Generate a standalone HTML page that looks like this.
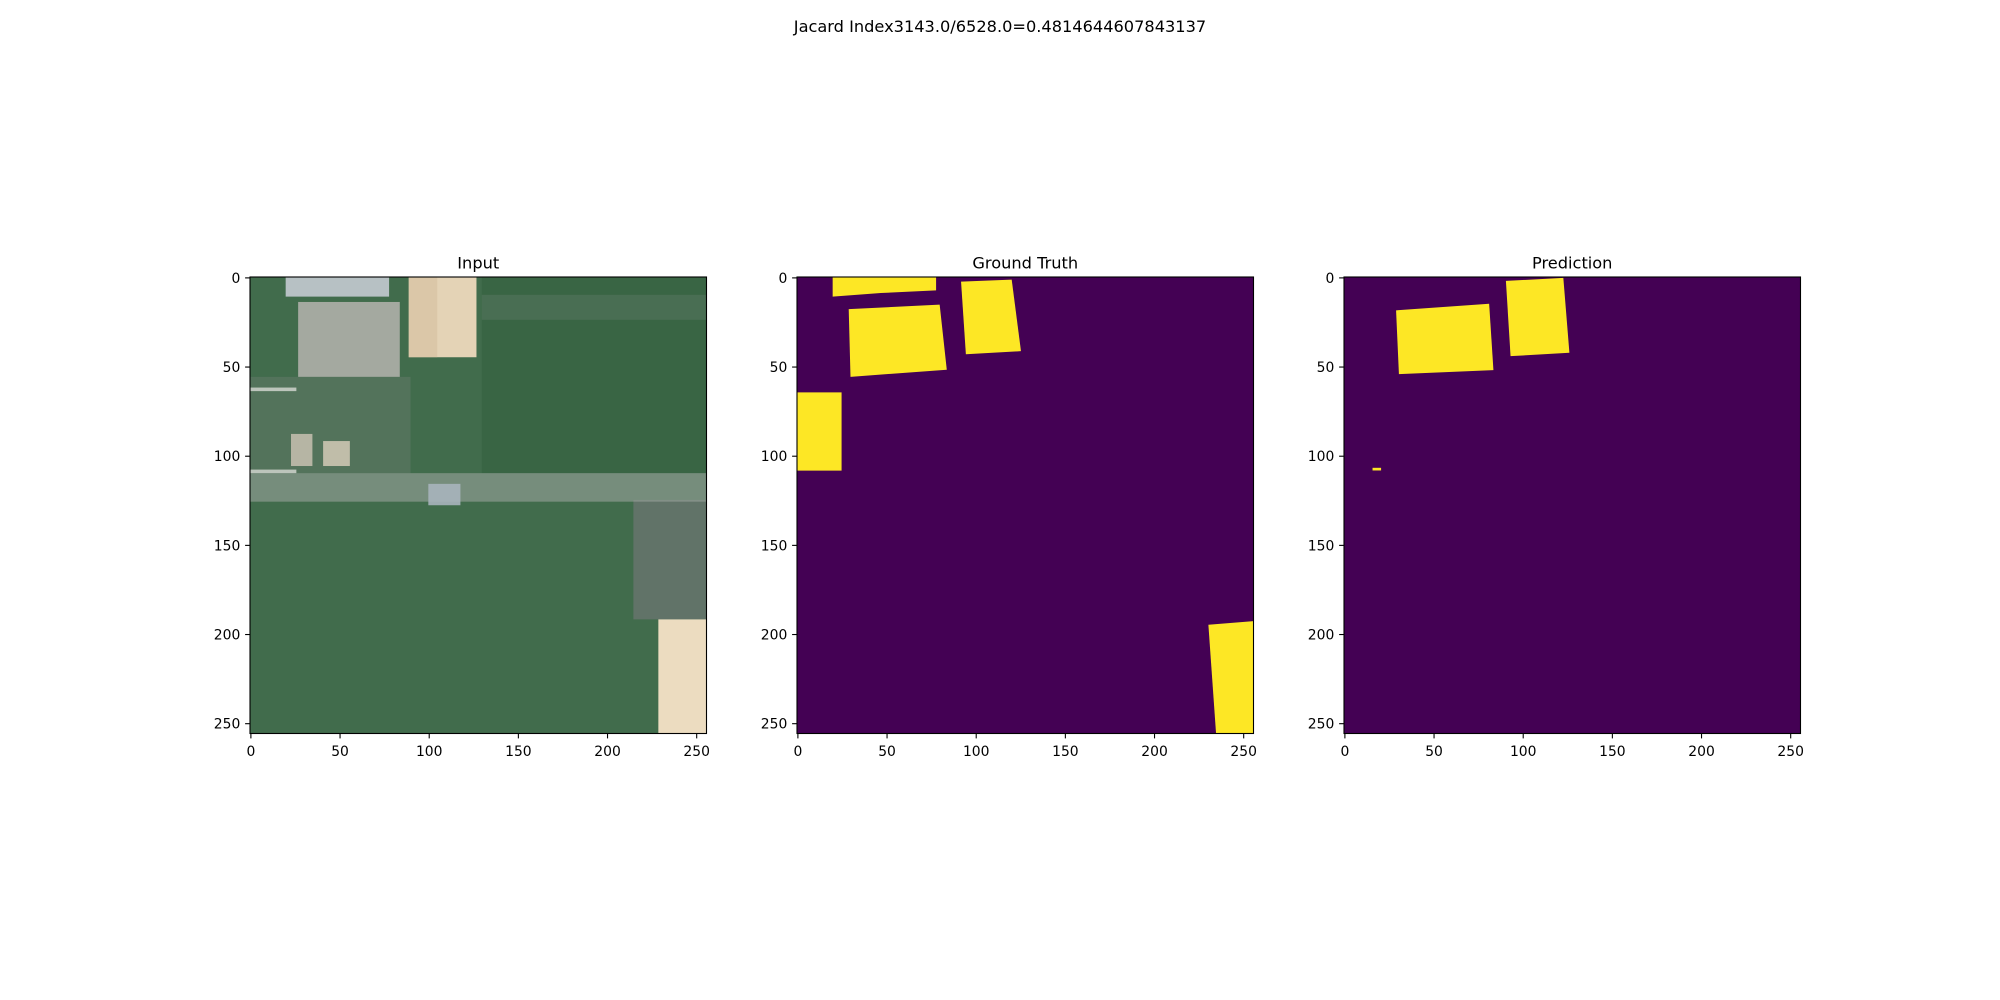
<!DOCTYPE html>
<html><head><meta charset="utf-8">
<style>
html,body{margin:0;padding:0;background:#fff;}
svg{display:block;font-family:"DejaVu Sans","Liberation Sans",sans-serif;}
</style></head>
<body>
<svg id="fig" width="2000" height="1000" viewBox="0 0 2000 1000" xmlns="http://www.w3.org/2000/svg">
<rect width="2000" height="1000" fill="#fff"/>
<text x="1000" y="32" font-size="16.2" text-anchor="middle" fill="#000">Jacard Index3143.0/6528.0=0.4814644607843137</text>
</svg>
<script>
// ---- data ----
const panelTitles = ["Input", "Ground Truth", "Prediction"];
const tickValues = [0, 50, 100, 150, 200, 250];
const tickLabels = ["0", "50", "100", "150", "200", "250"];
const imageSize = 256;
// mask polygons in pixel (data) coordinates [x,y,...]
const gtMasks = [
  [20,0, 78,0, 78,7.5, 47,9, 20,11],
  [29,18, 80,15.5, 84,52, 30,56],
  [92,2.6, 120.4,1.5, 125.6,41.6, 94.7,43.3],
  [0,64.7, 25,64.7, 25,108.6, 0,108.6],
  [230.7,195, 256,193, 256,256, 235,256]
];
const predMasks = [
  [29.2,18.7, 81.4,15, 83.8,52.2, 30.8,54.5],
  [90.8,2.2, 123,0.5, 126.4,42.5, 93.4,44.4],
  [16,107, 20.8,107, 20.8,108.5, 16,108.5]
];
// input image regions: [x0,y0,x1,y1,color,opacity]
const inputRegions = [
  [0,0,256,256,"#416c4c",1],
  [130,0,256,110,"#33603f",0.6],
  [0,56,90,110,"#6f8072",0.4],
  [215,125,256,192,"#6c7672",0.75],
  [0,110,256,126,"#9aa49c",0.6],
  [20,0,78,11,"#b7c1c4",1],
  [27,14,84,56,"#a4a9a0",1],
  [89,0,127,45,"#e4d3b6",1],
  [89,0,105,45,"#d6bf9f",0.6],
  [229,192,256,256,"#ecdcc0",1],
  [23,88,35,106,"#cfc6b6",0.8],
  [41,92,56,106,"#dcd0bd",0.8],
  [100,116,118,128,"#a8b4bc",0.9],
  [0,62,26,64,"#d8dad4",0.8],
  [0,108,26,110,"#d8dad4",0.8],
  [130,10,256,24,"#7b8a80",0.25]
];
// ---- layout ----
const axLefts = [250, 797, 1344];
const axTop = 277, axSize = 456.5;
const NS = "http://www.w3.org/2000/svg";
const fig = document.getElementById("fig");
function mk(tag, attrs, parent){ const e=document.createElementNS(NS,tag); for(const k in attrs) e.setAttribute(k,attrs[k]); (parent||fig).appendChild(e); return e; }
function sx(i,v){ return axLefts[i] + (v+0.5)/imageSize*axSize; }
function sy(v){ return axTop + (v+0.5)/imageSize*axSize; }
function px(i,v){ return axLefts[i] + v/imageSize*axSize; }
function py(v){ return axTop + v/imageSize*axSize; }

panelTitles.forEach((t,i)=>{
  const g = mk("g",{});
  
  
  const clipId = "clip"+i;
  const cp = mk("clipPath",{id:clipId}, g);
  mk("rect",{x:axLefts[i],y:axTop,width:axSize,height:axSize}, cp);
  const img = mk("g",{"clip-path":"url(#"+clipId+")"}, g);
  
  
  if(i===0){
    inputRegions.forEach(r=>{
      const e = mk("rect",{x:px(0,r[0]),y:py(r[1]),width:(r[2]-r[0])/imageSize*axSize,height:(r[3]-r[1])/imageSize*axSize,fill:r[4],opacity:r[5]}, img);
      
      
    });
  } else {
    mk("rect",{x:axLefts[i],y:axTop,width:axSize,height:axSize,fill:"#440154"}, img);
    const masks = i===1 ? gtMasks : predMasks;
    masks.forEach(m=>{
      const pts=[]; for(let k=0;k<m.length;k+=2) pts.push(px(i,m[k]).toFixed(2)+","+py(m[k+1]).toFixed(2));
      const p = mk("polygon",{points:pts.join(" "),fill:"#fde725"}, img);
      
      
    });
  }
  const fr = mk("rect",{x:axLefts[i],y:axTop,width:axSize,height:axSize,fill:"none",stroke:"#000","stroke-width":1.1}, g);
  
  
  const tt = mk("text",{x:axLefts[i]+axSize/2,y:axTop-8.5,"font-size":16.2,"text-anchor":"middle",fill:"#000"}, g);
  tt.textContent = t;
  
  
  tickValues.forEach((v,k)=>{
    const x = sx(i,v), yb = axTop+axSize;
    mk("line",{x1:x,y1:yb,x2:x,y2:yb+4.9,stroke:"#000","stroke-width":1.1}, g);
    const xl = mk("text",{x:x,y:yb+22.5,"font-size":13.9,"text-anchor":"middle",fill:"#000"}, g);
    xl.textContent = tickLabels[k];
    
    
    const y = sy(v);
    mk("line",{x1:axLefts[i],y1:y,x2:axLefts[i]-4.9,y2:y,stroke:"#000","stroke-width":1.1}, g);
    const yl = mk("text",{x:axLefts[i]-9.7,y:y+5,"font-size":13.9,"text-anchor":"end",fill:"#000"}, g);
    yl.textContent = tickLabels[k];
    
    
  });
});
</script>
</body></html>
